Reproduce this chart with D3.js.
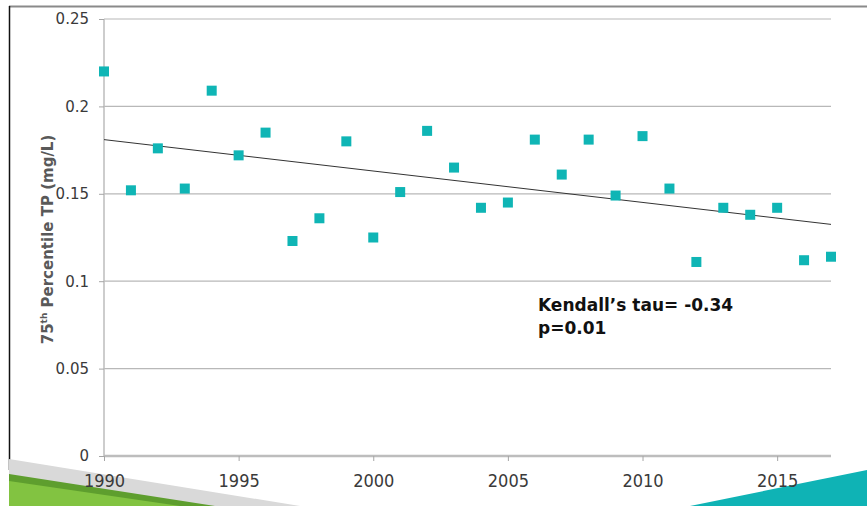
<!DOCTYPE html>
<html>
<head>
<meta charset="utf-8">
<script src="https://cdn.jsdelivr.net/npm/d3@7"></script>
<style>
  body { margin: 0; background: #fff; }
  svg { display: block; }
  text { font-family: "DejaVu Sans", sans-serif; }
  .xlab { font-family: "DejaVu Sans", sans-serif; font-stretch: condensed; }
</style>
</head>
<body>
<div id="chart"></div>
<script>
// data
const years = [1990, 1991, 1992, 1993, 1994, 1995, 1996, 1997, 1998, 1999,
  2000, 2001, 2002, 2003, 2004, 2005, 2006, 2007, 2008, 2009,
  2010, 2011, 2012, 2013, 2014, 2015, 2016, 2017];
const tp75 = [0.220, 0.152, 0.176, 0.153, 0.209, 0.172, 0.185, 0.123, 0.136, 0.180,
  0.125, 0.151, 0.186, 0.165, 0.142, 0.145, 0.181, 0.161, 0.181, 0.149,
  0.183, 0.153, 0.111, 0.142, 0.138, 0.142, 0.112, 0.114];
const trend = [[1990, 0.181], [2017, 0.1325]];
const yTicks = [0, 0.05, 0.1, 0.15, 0.2, 0.25];
const xTicks = [1990, 1995, 2000, 2005, 2010, 2015];
const statLines = ["Kendall\u2019s tau= -0.34", "p=0.01"];

const W = 867, H = 506;
const m = { t: 19, r: 36, b: 50, l: 104 };
const iw = W - m.l - m.r, ih = H - m.t - m.b;

const svg = d3.select("#chart").append("svg")
  .attr("width", W).attr("height", H);

// slide frame
svg.append("line").attr("x1", 9).attr("x2", W).attr("y1", 6.5).attr("y2", 6.5)
  .attr("stroke", "#8a8a8a").attr("stroke-width", 2);
svg.append("line").attr("x1", 9.5).attr("x2", 9.5).attr("y1", 6).attr("y2", 470)
  .attr("stroke", "#111").attr("stroke-width", 1.5);

// decorative corners
svg.append("polygon").attr("points", "9,459 300,506 9,506").attr("fill", "#d9d9d9");
svg.append("polygon").attr("points", "9,474 215,506 9,506").attr("fill", "#5e9e2e");
svg.append("polygon").attr("points", "9,481 180,506 9,506").attr("fill", "#82c341");
svg.append("polygon").attr("points", "690,506 867,470 867,506").attr("fill", "#0fb3b5");

const g = svg.append("g").attr("transform", `translate(${m.l},${m.t})`);

const x = d3.scaleLinear().domain([1990, 2017]).range([0, iw]);
const y = d3.scaleLinear().domain([0, 0.25]).range([ih, 0]);

// gridlines
g.append("g").selectAll("line")
  .data(yTicks.filter(d => d > 0))
  .join("line")
  .attr("x1", 0).attr("x2", iw)
  .attr("y1", d => y(d)).attr("y2", d => y(d))
  .attr("stroke", "#b8b8b8").attr("stroke-width", 1.2);

// axes
const yAxis = g.append("g")
  .call(d3.axisLeft(y).tickValues(yTicks).tickSize(5).tickPadding(10)
    .tickFormat(d => d === 0 ? "0" : String(+d.toFixed(2))));
const xAxis = g.append("g").attr("transform", `translate(0,${ih})`)
  .call(d3.axisBottom(x).tickValues(xTicks).tickSize(5).tickPadding(12)
    .tickFormat(d3.format("d")));

[yAxis, xAxis].forEach(a => {
  a.select(".domain").attr("stroke", "#bdbdbd").attr("stroke-width", 1.5);
  a.selectAll(".tick line").attr("stroke", "#a6a6a6");
  a.selectAll("text").attr("fill", "#3a3a3a");
});
yAxis.select(".domain").attr("d", `M0,0V${ih}`);
xAxis.select(".domain").attr("d", `M0,0H${iw}`).attr("stroke-width", 2.5);
yAxis.selectAll("text").attr("font-size", 15);
xAxis.selectAll("text").attr("font-size", 18)
  .attr("font-family", null)
  .attr("class", "xlab")
  .attr("dy", "0.75em");

// y-axis title
const yt = svg.append("text")
  .attr("transform", `translate(53, ${m.t + ih / 2 + 2}) rotate(-90)`)
  .attr("text-anchor", "middle")
  .attr("fill", "#595959").attr("font-size", 15).attr("font-weight", "bold");
yt.append("tspan").text("75");
yt.append("tspan").attr("font-size", 9).attr("dy", -6).text("th");
yt.append("tspan").attr("dy", 6).text(" Percentile TP (mg/L)");

// trend line
g.append("path")
  .datum(trend)
  .attr("d", d3.line().x(d => x(d[0])).y(d => y(d[1])))
  .attr("fill", "none").attr("stroke", "#333").attr("stroke-width", 1);

// points
const s = 10;
g.append("g").selectAll("rect")
  .data(years.map((yr, i) => ({ yr, v: tp75[i] })))
  .join("rect")
  .attr("x", d => x(d.yr) - s / 2)
  .attr("y", d => y(d.v) - s / 2)
  .attr("width", s).attr("height", s)
  .attr("fill", "#0fb5b5");

// statistics note
svg.append("text")
  .attr("x", 538).attr("y", 311)
  .attr("font-size", 17).attr("font-weight", "bold").attr("fill", "#111")
  .selectAll("tspan")
  .data(statLines)
  .join("tspan")
  .attr("x", 538).attr("dy", (d, i) => i ? 23 : 0)
  .text(d => d);
</script>
</body>
</html>
